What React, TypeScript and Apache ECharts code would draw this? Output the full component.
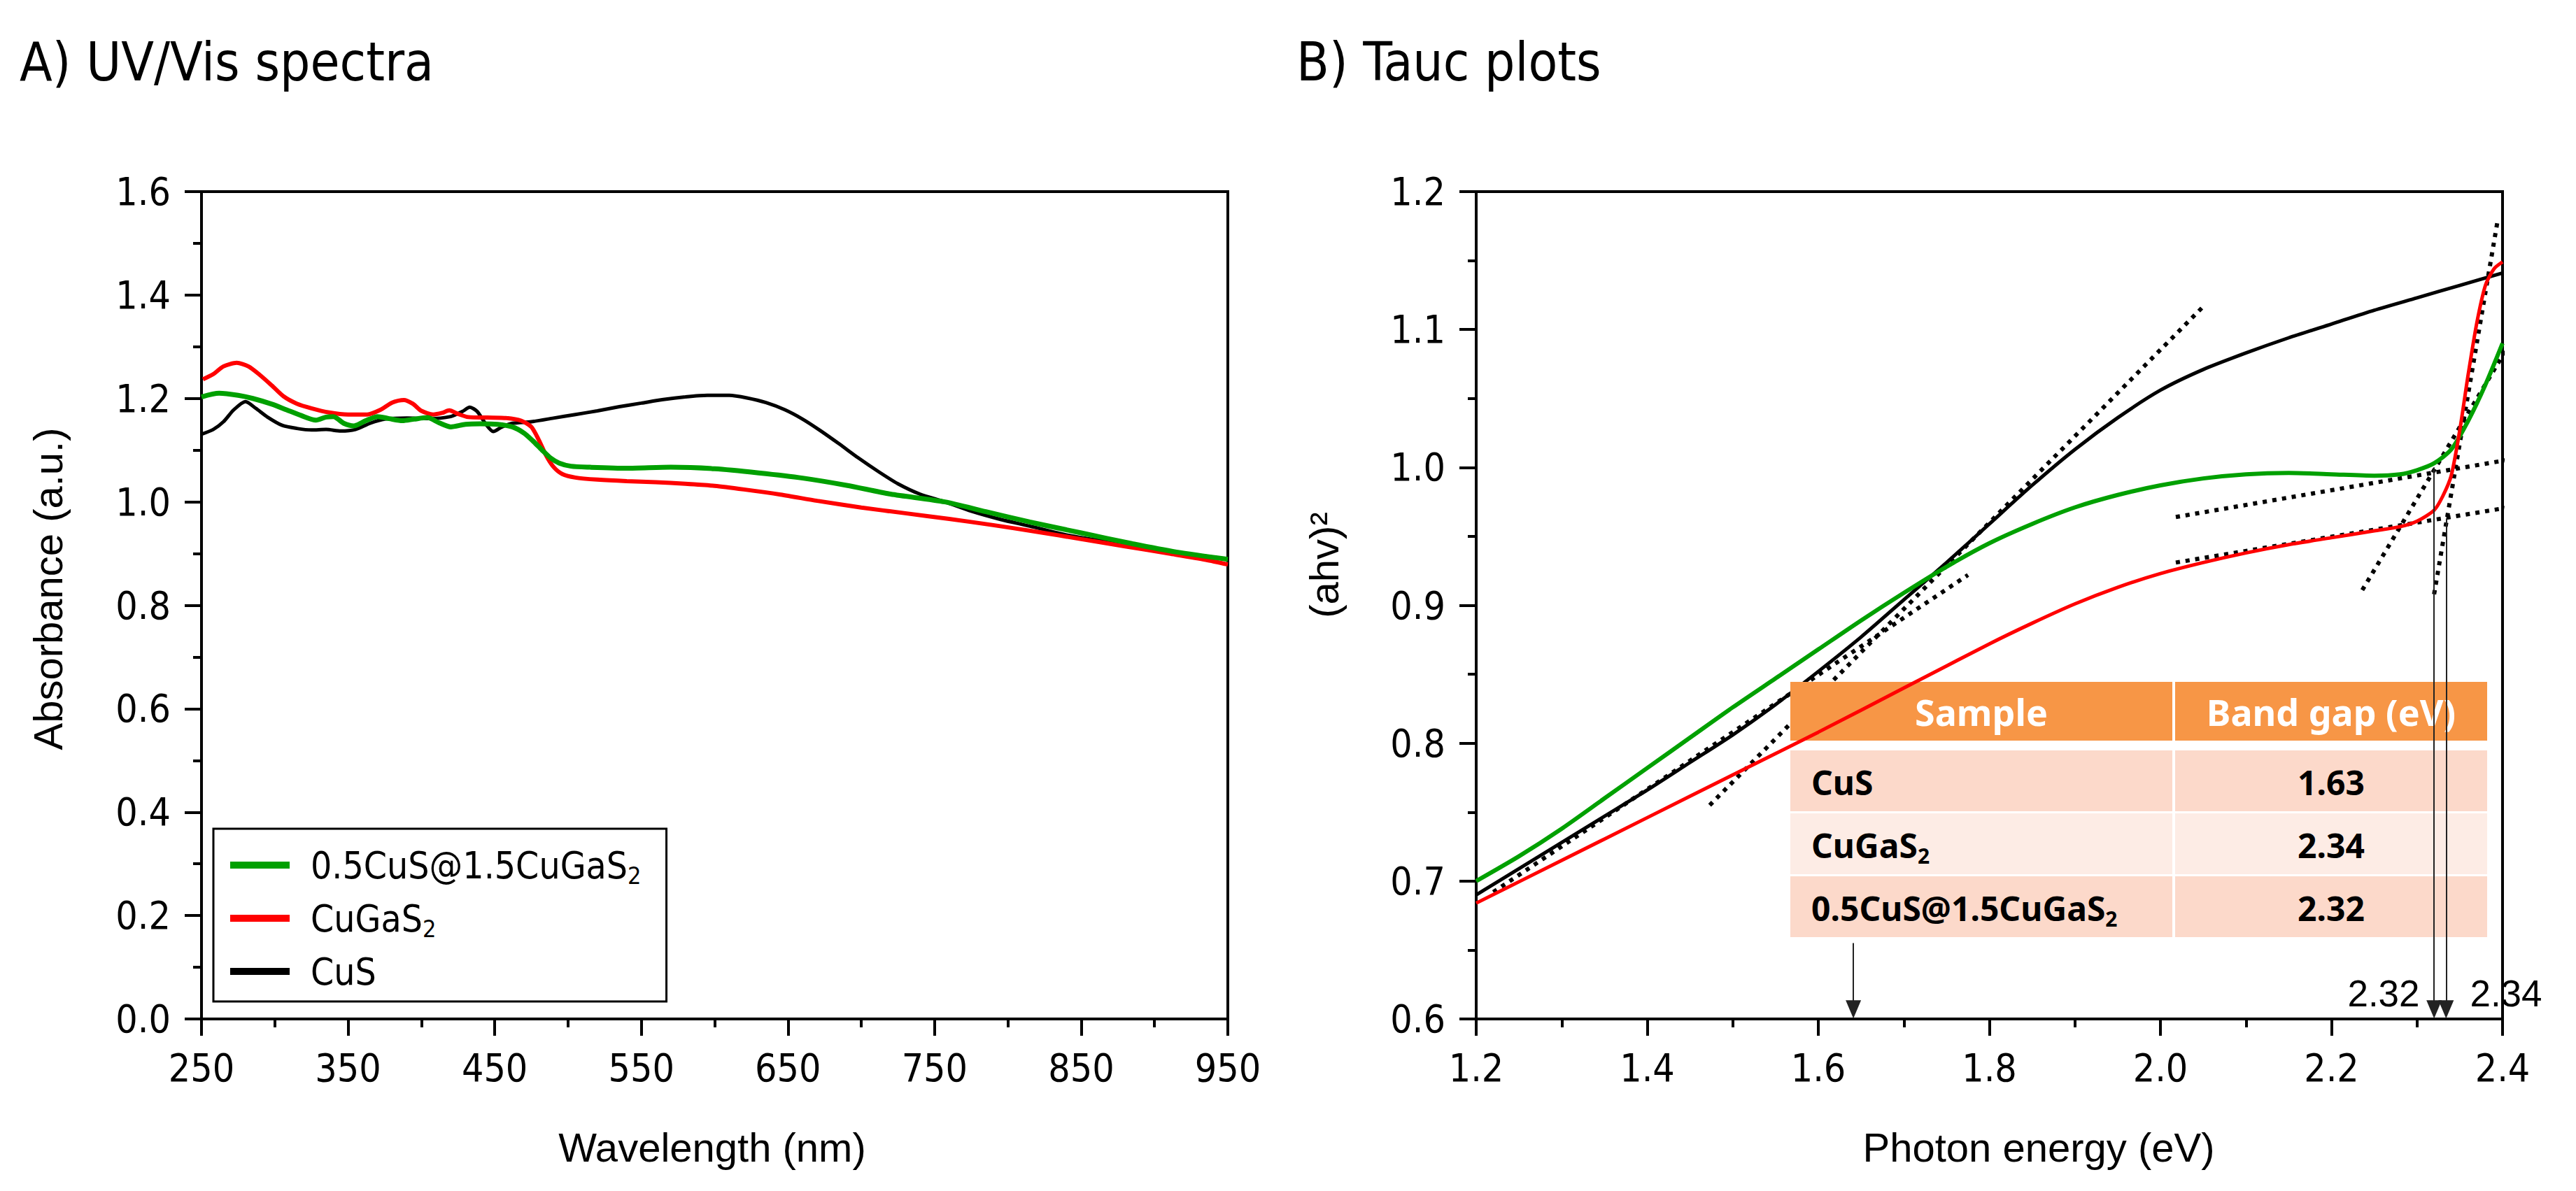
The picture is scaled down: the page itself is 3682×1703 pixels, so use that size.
import React, { useEffect, useRef } from 'react';
import * as echarts from 'echarts';

// ---------- data ----------
const NAME_MIX = '0.5CuS@1.5CuGaS2';
const NAME_CGS = 'CuGaS2';
const NAME_CUS = 'CuS';

// Panel A: UV/Vis absorbance vs wavelength (nm)
const uvCuS: [number, number][] = [
  [250, 1.131], [258, 1.140], [265, 1.155], [272, 1.178], [280, 1.194], [287, 1.181], [295, 1.164],
  [305, 1.148], [315, 1.142], [325, 1.139], [335, 1.140], [345, 1.137], [355, 1.140], [365, 1.152],
  [375, 1.160], [390, 1.162], [405, 1.161], [420, 1.165], [428, 1.175], [433, 1.183], [438, 1.175],
  [444, 1.150], [449, 1.136], [455, 1.145], [462, 1.152], [475, 1.155], [490, 1.162], [505, 1.169],
  [520, 1.176], [535, 1.184], [550, 1.191], [565, 1.198], [580, 1.203], [595, 1.206], [610, 1.206],
  [622, 1.201], [635, 1.192], [648, 1.178], [660, 1.160], [672, 1.138], [685, 1.112], [698, 1.085],
  [712, 1.058], [725, 1.035], [740, 1.015], [757, 1.000], [775, 0.982], [795, 0.966], [815, 0.953],
  [840, 0.936], [865, 0.924], [890, 0.913], [915, 0.902], [935, 0.895], [950, 0.889],
];
const uvCuGaS2: [number, number][] = [
  [251, 1.237], [258, 1.247], [265, 1.262], [274, 1.269], [282, 1.262], [290, 1.245], [298, 1.225],
  [306, 1.204], [315, 1.190], [325, 1.181], [337, 1.173], [350, 1.169], [363, 1.169], [372, 1.178],
  [380, 1.192], [388, 1.197], [394, 1.190], [400, 1.176], [408, 1.169], [414, 1.172], [419, 1.177],
  [425, 1.170], [432, 1.164], [445, 1.163], [458, 1.162], [468, 1.157], [475, 1.145], [480, 1.120],
  [485, 1.090], [490, 1.068], [496, 1.054], [505, 1.047], [520, 1.043], [540, 1.040], [560, 1.038],
  [580, 1.035], [600, 1.031], [620, 1.024], [645, 1.014], [670, 1.002], [700, 0.989], [730, 0.978],
  [760, 0.967], [790, 0.955], [820, 0.942], [850, 0.928], [880, 0.914], [910, 0.900], [935, 0.888],
  [950, 0.879],
];
const uvMix: [number, number][] = [
  [250, 1.203], [262, 1.210], [275, 1.206], [285, 1.200], [298, 1.189], [308, 1.178], [318, 1.167],
  [328, 1.158], [335, 1.164], [340, 1.165], [347, 1.152], [354, 1.147], [362, 1.157], [370, 1.165],
  [378, 1.161], [387, 1.157], [395, 1.160], [404, 1.163], [412, 1.153], [420, 1.145], [430, 1.150],
  [440, 1.151], [452, 1.150], [462, 1.145], [470, 1.133], [476, 1.118], [482, 1.101], [488, 1.085],
  [494, 1.075], [502, 1.069], [515, 1.067], [540, 1.065], [570, 1.067], [600, 1.064], [630, 1.056],
  [660, 1.046], [690, 1.032], [720, 1.015], [757, 1.000], [785, 0.981], [815, 0.961], [850, 0.940],
  [885, 0.919], [915, 0.903], [950, 0.889],
];

// Panel B: Tauc plots vs photon energy (eV)
const taucCuS: [number, number][] = [
  [1.2, 0.690], [1.25, 0.709], [1.3, 0.728], [1.35, 0.747], [1.4, 0.766], [1.45, 0.786], [1.5, 0.806],
  [1.55, 0.828], [1.6, 0.852], [1.65, 0.877], [1.7, 0.904], [1.75, 0.931], [1.8, 0.959], [1.85, 0.987],
  [1.9, 1.013], [1.95, 1.036], [2.0, 1.056], [2.05, 1.071], [2.1, 1.083], [2.15, 1.094], [2.2, 1.104],
  [2.25, 1.114], [2.3, 1.123], [2.35, 1.132], [2.4, 1.141],
];
const taucCuGaS2: [number, number][] = [
  [1.2, 0.684], [1.3, 0.715], [1.4, 0.746], [1.5, 0.777], [1.6, 0.808], [1.7, 0.840], [1.8, 0.872],
  [1.85, 0.887], [1.9, 0.901], [1.95, 0.913], [2.0, 0.923], [2.05, 0.931], [2.1, 0.938], [2.15, 0.944],
  [2.2, 0.949], [2.25, 0.954], [2.28, 0.957], [2.3, 0.961], [2.32, 0.969], [2.33, 0.979], [2.34, 0.994],
  [2.35, 1.027], [2.36, 1.068], [2.37, 1.105], [2.38, 1.132], [2.39, 1.144], [2.4, 1.149],
];
const taucMix: [number, number][] = [
  [1.2, 0.700], [1.25, 0.718], [1.3, 0.738], [1.35, 0.760], [1.4, 0.782], [1.45, 0.804], [1.5, 0.826],
  [1.55, 0.847], [1.6, 0.868], [1.65, 0.889], [1.7, 0.909], [1.75, 0.928], [1.8, 0.945], [1.85, 0.959],
  [1.9, 0.971], [1.95, 0.980], [2.0, 0.987], [2.05, 0.992], [2.1, 0.995], [2.15, 0.996], [2.2, 0.995],
  [2.25, 0.994], [2.28, 0.995], [2.3, 0.998], [2.32, 1.003], [2.34, 1.013], [2.36, 1.034], [2.38, 1.060],
  [2.4, 1.090],
];

// dotted tangent / baseline lines of the Tauc plot
const tangentCuS: [number, number][] = [[1.473, 0.755], [2.049, 1.116]];
const tangentCuSLow: [number, number][] = [[1.22, 0.692], [1.775, 0.922]];
const baselineMix: [number, number][] = [[2.018, 0.964], [2.458, 1.011]];
const baselineCGS: [number, number][] = [[2.018, 0.931], [2.456, 0.976]];
const steepCGS: [number, number][] = [[2.32, 0.908], [2.394, 1.178]];
const steepMix: [number, number][] = [[2.236, 0.911], [2.454, 1.137]];

// band-gap arrows: [energy, start value, arrow-tip value]
const gapArrows: [number, number, number][] = [
  [2.32, 1.0, 0.607],
  [2.334, 0.963, 0.607],
  [1.641, 0.655, 0.607],
];
const gapArrowLabels = ['2.32', '2.34'];

// table
const tableHeader = ['Sample', 'Band gap (eV)'];
const tableSamples: [string, string][] = [['CuS', ''], ['CuGaS', '2'], ['0.5CuS@1.5CuGaS', '2']];
const tableGaps = ['1.63', '2.34', '2.32'];

// ticks
const wlMajor = [250, 350, 450, 550, 650, 750, 850, 950];
const wlMinor = [300, 400, 500, 600, 700, 800, 900];
const absMajor = [0, 0.2, 0.4, 0.6, 0.8, 1.0, 1.2, 1.4, 1.6];
const absMinor = [0.1, 0.3, 0.5, 0.7, 0.9, 1.1, 1.3, 1.5];
const eMajor = [1.2, 1.4, 1.6, 1.8, 2.0, 2.2, 2.4];
const eMinor = [1.3, 1.5, 1.7, 1.9, 2.1, 2.3];
const tMajor = [0.6, 0.7, 0.8, 0.9, 1.0, 1.1, 1.2];
const tMinor = [0.65, 0.75, 0.85, 0.95, 1.05, 1.15];

// ---------- styles ----------
const GREEN = '#00A000';
const RED = '#FF0000';
const BLACK = '#000000';
const NARROW = "'Liberation Sans Narrow', 'DejaVu Sans Condensed', 'Liberation Sans', sans-serif";
const REG = "'Liberation Sans', 'DejaVu Sans', sans-serif";
const TABLE_FONT = "'Noto Sans', 'DejaVu Sans', sans-serif";

const GRID_A = { left: 288, top: 274, width: 1467, height: 1183 };
const GRID_B = { left: 2110, top: 274, width: 1467, height: 1183 };

function richName(name: string): string {
  if (name.endsWith('S2')) return `{n|${name.slice(0, -1)}}{s|2}`;
  return `{n|${name}}`;
}

function xAxes(gridIndex: number, min: number, max: number, major: number[], minor: number[], fmt: (v: number) => string) {
  return [
    {
      type: 'value', gridIndex, min, max, position: 'bottom',
      axisLine: { show: true, onZero: false, lineStyle: { color: '#000', width: 4 } },
      axisTick: { show: true, inside: false, length: 24, customValues: major, lineStyle: { color: '#000', width: 4 } },
      axisLabel: { show: true, customValues: major, formatter: fmt, margin: 42, fontFamily: NARROW, fontSize: 55, color: '#000' },
      splitLine: { show: false },
    },
    {
      type: 'value', gridIndex, min, max, position: 'bottom',
      axisLine: { show: false, onZero: false },
      axisTick: { show: true, inside: false, length: 12, customValues: minor, lineStyle: { color: '#000', width: 4 } },
      axisLabel: { show: false },
      splitLine: { show: false },
    },
  ];
}

function yAxes(gridIndex: number, min: number, max: number, major: number[], minor: number[], fmt: (v: number) => string) {
  return [
    {
      type: 'value', gridIndex, min, max, position: 'left',
      axisLine: { show: true, onZero: false, lineStyle: { color: '#000', width: 4 } },
      axisTick: { show: true, inside: false, length: 24, customValues: major, lineStyle: { color: '#000', width: 4 } },
      axisLabel: { show: true, customValues: major, formatter: fmt, margin: 44, fontFamily: NARROW, fontSize: 55, color: '#000' },
      splitLine: { show: false },
    },
    {
      type: 'value', gridIndex, min, max, position: 'left',
      axisLine: { show: false, onZero: false },
      axisTick: { show: true, inside: false, length: 12, customValues: minor, lineStyle: { color: '#000', width: 4 } },
      axisLabel: { show: false },
      splitLine: { show: false },
    },
  ];
}

function curve(name: string, data: [number, number][], color: string, width: number, axis: number, z: number) {
  return {
    type: 'line', name, data, xAxisIndex: axis, yAxisIndex: axis,
    showSymbol: false, symbol: 'none', smooth: 0.25,
    lineStyle: { color, width }, itemStyle: { color }, z, silent: true,
  };
}

function dotted(id: string, data: [number, number][]) {
  return {
    type: 'line', name: id, data, xAxisIndex: 2, yAxisIndex: 2,
    showSymbol: false, symbol: 'none', clip: false, silent: true,
    lineStyle: { color: '#000', width: 6, type: [6, 8] }, z: 2,
  };
}

const subRich = {
  n: { fontFamily: TABLE_FONT, fontSize: 48, fontWeight: 'bold', color: '#000', lineHeight: 60 },
  s: { fontFamily: TABLE_FONT, fontSize: 30, fontWeight: 'bold', color: '#000', lineHeight: 22, verticalAlign: 'bottom' },
};

function buildTable() {
  const x0 = 2559, xDiv = 3107, x1 = 3555, gap = 4;
  const headerTop = 975, headerH = 84;
  const rowTops = [1073, 1163, 1253];
  const rowH = 87;
  const rowColors = ['#FCD9CA', '#FDECE5', '#FCD9CA'];
  const els: any[] = [];
  const cx0 = (x0 + xDiv - gap / 2) / 2;
  const cx1 = (xDiv + gap / 2 + x1) / 2;
  els.push({ type: 'rect', z: 3, shape: { x: x0, y: headerTop, width: xDiv - gap / 2 - x0, height: headerH }, style: { fill: '#F79646' } });
  els.push({ type: 'rect', z: 3, shape: { x: xDiv + gap / 2, y: headerTop, width: x1 - xDiv - gap / 2, height: headerH }, style: { fill: '#F79646' } });
  els.push({ type: 'text', z: 3, x: cx0, y: headerTop + headerH / 2, style: { text: tableHeader[0], fill: '#fff', fontFamily: TABLE_FONT, fontSize: 52, fontWeight: 'bold', align: 'center', verticalAlign: 'middle' } });
  els.push({ type: 'text', z: 3, x: cx1, y: headerTop + headerH / 2, style: { text: tableHeader[1], fill: '#fff', fontFamily: TABLE_FONT, fontSize: 52, fontWeight: 'bold', align: 'center', verticalAlign: 'middle' } });
  tableSamples.forEach((s, i) => {
    const top = rowTops[i];
    els.push({ type: 'rect', z: 3, shape: { x: x0, y: top, width: xDiv - gap / 2 - x0, height: rowH }, style: { fill: rowColors[i] } });
    els.push({ type: 'rect', z: 3, shape: { x: xDiv + gap / 2, y: top, width: x1 - xDiv - gap / 2, height: rowH }, style: { fill: rowColors[i] } });
    const txt = s[1] ? `{n|${s[0]}}{s|${s[1]}}` : `{n|${s[0]}}`;
    els.push({ type: 'text', z: 3, x: x0 + 30, y: top + rowH / 2 + 2, style: { text: txt, rich: subRich, align: 'left', verticalAlign: 'middle' } });
    els.push({ type: 'text', z: 3, x: cx1, y: top + rowH / 2 + 2, style: { text: tableGaps[i], fill: '#000', fontFamily: TABLE_FONT, fontSize: 48, fontWeight: 'bold', align: 'center', verticalAlign: 'middle' } });
  });
  return els;
}

export default function App() {
  const ref = useRef<HTMLDivElement>(null);

  useEffect(() => {
    if (!ref.current) return;
    const chart = echarts.init(ref.current, undefined, { renderer: 'svg' });
    const legendRich = {
      n: { fontFamily: NARROW, fontSize: 53, color: '#000', lineHeight: 64, padding: [0, 0, 0, 25] },
      s: { fontFamily: NARROW, fontSize: 34, color: '#000', lineHeight: 20, verticalAlign: 'bottom' },
    };
    const option: any = {
      animation: false,
      backgroundColor: '#ffffff',
      textStyle: { fontFamily: REG },
      grid: [
        { ...GRID_A, show: true, borderColor: '#000', borderWidth: 4, backgroundColor: 'transparent' },
        { ...GRID_B, show: true, borderColor: '#000', borderWidth: 4, backgroundColor: 'transparent' },
      ],
      xAxis: [
        ...xAxes(0, 250, 950, wlMajor, wlMinor, (v: number) => String(Math.round(v))),
        ...xAxes(1, 1.2, 2.4, eMajor, eMinor, (v: number) => v.toFixed(1)),
      ],
      yAxis: [
        ...yAxes(0, 0, 1.6, absMajor, absMinor, (v: number) => v.toFixed(1)),
        ...yAxes(1, 0.6, 1.2, tMajor, tMinor, (v: number) => v.toFixed(1)),
      ],
      legend: {
        data: [NAME_MIX, NAME_CGS, NAME_CUS],
        orient: 'vertical',
        left: 305,
        top: 1185,
        padding: [20, 36, 11, 24],
        itemGap: 12,
        itemWidth: 85,
        itemHeight: 10,
        icon: 'rect',
        borderColor: '#000',
        borderWidth: 3,
        selectedMode: false,
        formatter: (name: string) => richName(name),
        textStyle: { fontFamily: NARROW, fontSize: 53, color: '#000', lineHeight: 64, rich: legendRich },
      },
      series: [
        curve(NAME_CUS, uvCuS, BLACK, 5, 0, 3),
        curve(NAME_CGS, uvCuGaS2, RED, 6, 0, 3),
        curve(NAME_MIX, uvMix, GREEN, 7, 0, 4),
        curve(NAME_CUS, taucCuS, BLACK, 5, 2, 2),
        curve(NAME_MIX, taucMix, GREEN, 6, 2, 4),
        {
          ...curve(NAME_CGS, taucCuGaS2, RED, 5, 2, 4),
          markLine: {
            silent: true,
            symbol: ['none', 'triangle'],
            symbolSize: [22, 26],
            label: { show: false },
            lineStyle: { color: '#222', width: 2, type: 'solid' },
            data: gapArrows.map(([e, v0, v1]) => [{ coord: [e, v0] }, { coord: [e, v1] }]),
          },
        },
        dotted('tangent CuS', tangentCuS),
        dotted('tangent CuS low', tangentCuSLow),
        dotted('baseline mix', baselineMix),
        dotted('baseline CuGaS2', baselineCGS),
        dotted('steep CuGaS2', steepCGS),
        dotted('steep mix', steepMix),
      ],
      graphic: [
        { type: 'text', x: 28, y: 88, style: { text: 'A) UV/Vis spectra', fontFamily: NARROW, fontSize: 76, fill: '#000', align: 'left', verticalAlign: 'middle' } },
        { type: 'text', x: 1853, y: 88, style: { text: 'B) Tauc plots', fontFamily: NARROW, fontSize: 76, fill: '#000', align: 'left', verticalAlign: 'middle' } },
        { type: 'text', x: 68, y: 842, rotation: Math.PI / 2, style: { text: 'Absorbance (a.u.)', fontFamily: REG, fontSize: 58, fill: '#000', align: 'center', verticalAlign: 'middle' } },
        { type: 'text', x: 1018, y: 1640, style: { text: 'Wavelength (nm)', fontFamily: REG, fontSize: 58, fill: '#000', align: 'center', verticalAlign: 'middle' } },
        { type: 'text', x: 1892, y: 808, rotation: Math.PI / 2, style: { text: '(ahv)²', fontFamily: REG, fontSize: 58, fill: '#000', align: 'center', verticalAlign: 'middle' } },
        { type: 'text', x: 2914, y: 1640, style: { text: 'Photon energy (eV)', fontFamily: REG, fontSize: 58, fill: '#000', align: 'center', verticalAlign: 'middle' } },
        { type: 'text', x: 3407, y: 1420, style: { text: gapArrowLabels[0], fontFamily: REG, fontSize: 53, fill: '#000', align: 'center', verticalAlign: 'middle' } },
        { type: 'text', x: 3582, y: 1420, style: { text: gapArrowLabels[1], fontFamily: REG, fontSize: 53, fill: '#000', align: 'center', verticalAlign: 'middle' } },
        ...buildTable(),
      ],
    };
    chart.setOption(option);
    return () => chart.dispose();
  }, []);

  return (
    <div
      ref={ref}
      style={{ position: 'fixed', left: 0, top: 0, width: 3682, height: 1703, background: '#fff' }}
    />
  );
}
